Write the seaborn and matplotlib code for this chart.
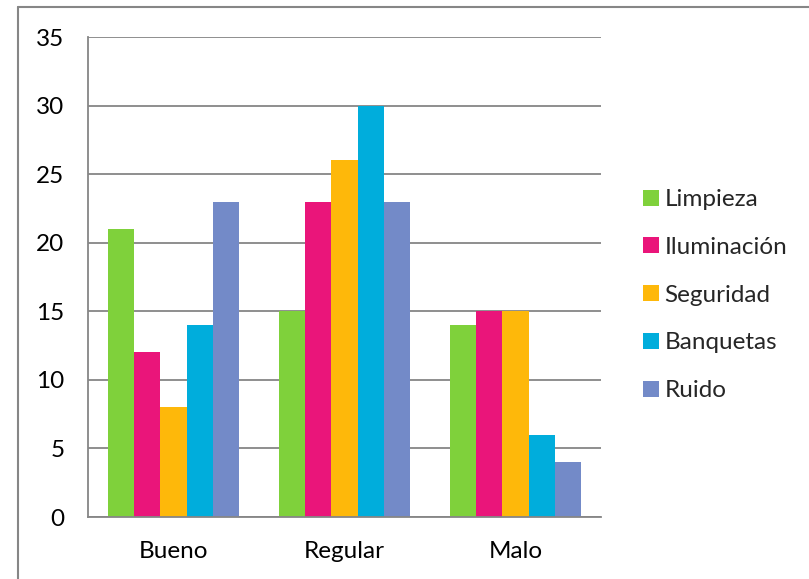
import matplotlib
matplotlib.use("Agg")
import matplotlib.pyplot as plt
from matplotlib.lines import Line2D
import seaborn as sns
import pandas as pd

categories = ["Bueno", "Regular", "Malo"]
series = ["Limpieza", "Iluminación", "Seguridad", "Banquetas", "Ruido"]
limpieza = [21, 15, 14]
iluminacion = [12, 23, 15]
seguridad = [8, 26, 15]
banquetas = [14, 30, 6]
ruido = [23, 23, 4]
y_ticks = [0, 5, 10, 15, 20, 25, 30, 35]

colors = ["#7FD13B", "#EA157A", "#FEB80A", "#00ADDC", "#738AC8"]

values = [limpieza, iluminacion, seguridad, banquetas, ruido]
rows = []
for s, vals in zip(series, values):
    for c, v in zip(categories, vals):
        rows.append({"cat": c, "serie": s, "val": v})
df = pd.DataFrame(rows)

sns.set_theme(style="white")
plt.rcParams["font.family"] = ["Lato", "DejaVu Sans"]

fs = 17.5
fig = plt.figure(figsize=(8.09, 5.79), dpi=100)
ax = fig.add_axes([88/809, 1-517/579, (601-88)/809, (517-37)/579])

sns.barplot(data=df, x="cat", y="val", hue="serie", order=categories,
            hue_order=series, palette=colors, width=0.77, gap=0,
            saturation=1, ax=ax, legend=False, linewidth=0, edgecolor="none")

ax.set_ylim(0, 35)
ax.set_xlim(-0.5, 2.5)
ax.set_yticks(y_ticks)
ax.set_yticklabels([str(t) for t in y_ticks])
ax.yaxis.grid(True, color="#868686", linewidth=1.3)
ax.set_axisbelow(True)
ax.set_xlabel("")
ax.set_ylabel("")
ax.tick_params(axis="y", length=0, pad=17, labelsize=fs, colors="black")
ax.tick_params(axis="x", length=0, pad=17.5, labelsize=fs, colors="black")
for side in ["top", "right"]:
    ax.spines[side].set_visible(False)
for side in ["left", "bottom"]:
    ax.spines[side].set_color("#868686")
    ax.spines[side].set_linewidth(1.3)

handles = [Line2D([0], [0], marker="s", linestyle="none", markersize=11,
                  markerfacecolor=c, markeredgewidth=0) for c in colors]
fig.legend(handles, series, loc="center left",
           bbox_to_anchor=(622/809, 1-295/579), frameon=False,
           fontsize=fs, labelspacing=1.1, handletextpad=0.15,
           handlelength=0.8, borderpad=0.3)

# outer chart border (left and top visible)
fig.add_artist(Line2D([18/809, 18/809], [0, 1-7/579], color="#868686",
                      linewidth=1.5, transform=fig.transFigure))
fig.add_artist(Line2D([18/809, 1], [1-7/579, 1-7/579], color="#868686",
                      linewidth=1.5, transform=fig.transFigure))

fig.savefig("out.png", dpi=100, facecolor="white")
